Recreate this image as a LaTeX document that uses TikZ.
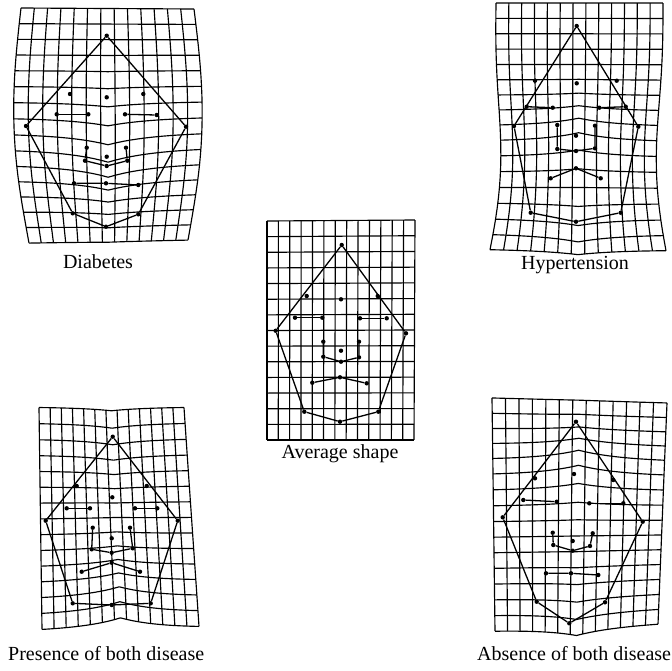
\documentclass[tikz,border=0pt]{standalone}
\usepackage{fontspec}
\setmainfont{Liberation Serif}
\tikzset{
  declare function={
    sq(\z)=\z*\z;
    gs(\z)=exp(max(-9,0-sq(\z)));
    cu(\u)=exp(0-abs(\u-0.5)/\Cw);
    fx(\u,\v)=(1-\v)*((1-\u)*\TLx+\u*\TRx)+\v*((1-\u)*\BLx+\u*\BRx)+(2*\u-1)*(\Ea*sin(180*\v)+\Eb*sin(360*\v));
    fy(\u,\v)=(1-\u)*((1-\v)*\TLy+\v*\BLy)+\u*((1-\v)*\TRy+\v*\BRy)+cu(\u)*(\Da*gs((\v-\Va)/\Wa)+\Db*gs((\v-\Vb)/\Wb));
  },
  gridline/.style={line width=1.15pt, line join=round},
  outline/.style={line width=1.3pt, line join=round},
  landmark/.style={circle, fill=black, inner sep=0pt, minimum size=4.4pt},
  lbl/.style={font=\fontsize{20}{24}\selectfont, inner sep=0pt},
}
\newcommand\corners[8]{\def\TLx{#1}\def\TLy{#2}\def\TRx{#3}\def\TRy{#4}\def\BLx{#5}\def\BLy{#6}\def\BRx{#7}\def\BRy{#8}}
\newcommand\warp[9]{\def\Ea{#1}\def\Eb{#2}\def\Cw{#3}\def\Da{#4}\def\Va{#5}\def\Wa{#6}\def\Db{#7}\def\Vb{#8}\def\Wb{#9}}
\newcommand\drawgrid[2]{%
  \foreach \i in {0,...,#1}{%
    \pgfmathsetmacro\uu{\i/#1}%
    \draw[gridline] plot[domain=0:1, samples=25, variable=\t] ({fx(\uu,\t)},{fy(\uu,\t)});
  }%
  \foreach \j in {0,...,#2}{%
    \pgfmathsetmacro\vv{\j/#2}%
    \draw[gridline] plot[domain=0:1, samples=25, variable=\t] ({fx(\t,\vv)},{fy(\t,\vv)});
  }%
}
\newcommand\facelines[1]{%
  \draw[outline] (#1ap)--(#1L)--(#1l1)--(#1l2)--(#1l3)--(#1R)--(#1ap);
  \draw[outline] (#1b1)--(#1b2);
  \draw[outline] (#1b3)--(#1b4);
  \draw[outline] (#1n1)--(#1u1)--(#1u2)--(#1u3)--(#1n2);
  \draw[outline] (#1m1)--(#1m2)--(#1m3);
}
\begin{document}
\begin{tikzpicture}[x=1pt,y=-1pt]
\useasboundingbox (0,0) rectangle (672,670);

% ---------- Diabetes ----------
\begin{scope}
\corners{21}{8}{194}{9}{29}{243}{188}{240}
\warp{11}{0}{0.25}{14}{0.62}{0.22}{0}{1}{0.2}
\drawgrid{13}{15}
\foreach \n/\x/\y in {Dap/106.7/35.7, De1/70/94, De2/106.7/97.3, De3/143.3/94,
  Db1/56.7/114.3, Db2/88.3/114.3, Db3/125/114.3, Db4/156.7/115,
  DL/26/126, DR/186/126.7, Dn1/86.7/147.7, Dn2/126/147.7, Dc/106.7/156.7,
  Du1/85/160.7, Du2/106.7/166, Du3/127.3/160.7,
  Dm1/74/183.3, Dm2/106/183.3, Dm3/138.3/185,
  Dl1/72.7/213.3, Dl2/106/226.7, Dl3/138.3/214.3}
  {\node[landmark] (\n) at (\x,\y) {};}
\facelines{D}
\end{scope}

% ---------- Average shape ----------
\begin{scope}
\corners{267}{221}{415}{220}{267}{440}{414}{440}
\warp{0}{0}{0.25}{0}{0.5}{0.2}{0}{1}{0.2}
\drawgrid{13}{14}
\foreach \n/\x/\y in {Aap/341.7/245, Ae1/306.7/296, Ae2/341/299.3, Ae3/377.7/296,
  Ab1/295/317.7, Ab2/322.3/317.7, Ab3/360/318.3, Ab4/386.7/318.3,
  AL/275.7/330.7, AR/406/333.3, An1/323.3/341.7, An2/359/341.7, Ac/341/350.7,
  Au1/323.3/356.7, Au2/341/361.7, Au3/359/357.3,
  Am1/312.3/382.7, Am2/340/377.3, Am3/366.7/383.3,
  Al1/304.3/411.7, Al2/340/421.7, Al3/378.3/411.7}
  {\node[landmark] (\n) at (\x,\y) {};}
\facelines{A}
\end{scope}

% ---------- Hypertension ----------
\begin{scope}
\corners{496}{3}{663}{3}{490}{249}{666}{250}
\warp{-7}{3}{0.25}{-9}{0.55}{0.15}{8}{0.92}{0.12}
\drawgrid{13}{16}
\foreach \n/\x/\y in {Hap/576.7/26, He1/535/80.7, He2/576.7/83.3, He3/616.7/80.7,
  Hb1/526.7/106.7, Hb2/552.7/107.7, Hb3/599.3/107.7, Hb4/625.7/106.7,
  HL/514/126, HR/638.3/126.7, Hn1/557.3/125, Hn2/595/125.7, Hc/576/135.7,
  Hu1/557.3/149, Hu2/576/151, Hu3/595/148.3,
  Hm1/550.7/178.3, Hm2/576/168.3, Hm3/600.7/178.3,
  Hl1/530.7/212.7, Hl2/576/221.7, Hl3/620.7/212.7}
  {\node[landmark] (\n) at (\x,\y) {};}
\facelines{H}
\end{scope}

% ---------- Presence of both disease ----------
\begin{scope}
\corners{39}{407}{184}{407}{42}{631}{199}{628}
\warp{0}{0}{0.25}{6}{0.15}{0.22}{-12}{0.95}{0.3}
\drawgrid{13}{14}
\foreach \n/\x/\y in {Pap/112.7/436.7, Pe1/76.7/486, Pe2/112.3/497.3, Pe3/146.7/486,
  Pb1/66.7/508.3, Pb2/90/508.3, Pb3/135/508.3, Pb4/157.3/508.3,
  PL/45.7/520.7, PR/177.7/520.7, Pn1/92.7/527.7, Pn2/130/527.7, Pc/111.7/538.3,
  Pu1/91.7/549.3, Pu2/111.7/552.7, Pu3/132.7/548.3,
  Pm1/81.7/571.7, Pm2/111.7/562.7, Pm3/140/571.7,
  Pl1/72.7/603.3, Pl2/111.7/605, Pl3/150.7/603.3}
  {\node[landmark] (\n) at (\x,\y) {};}
\facelines{P}
\end{scope}

% ---------- Absence of both disease ----------
\begin{scope}
\corners{492}{398}{667}{403}{495}{630}{658}{623}
\warp{0}{0}{0.25}{-11}{0.3}{0.16}{9}{1}{0.2}
\drawgrid{13}{15}
\foreach \n/\x/\y in {Qap/576/421.7, Qe1/535/478.3, Qe2/574/474, Qe3/613.3/480,
  Qb1/523.3/500, Qb2/556.7/501.7, Qb3/589.3/503.3, Qb4/623.3/503.3,
  QL/502.7/517.3, QR/642.7/521.7, Qn1/552.7/532.7, Qn2/592.7/533.3, Qc/572.7/541,
  Qu1/553.3/545, Qu2/572.7/550.7, Qu3/590/546,
  Qm1/546/573.3, Qm2/571/573.3, Qm3/598.3/575,
  Ql1/536.7/601.7, Ql2/569.3/623.3, Ql3/605/602.3}
  {\node[landmark] (\n) at (\x,\y) {};}
\facelines{Q}
\end{scope}

% ---------- labels ----------
\node[lbl, anchor=base] (tD) at (98,268) {Diabetes};
\node[lbl, anchor=base] (tH) at (575,269) {Hypertension};
\node[lbl, anchor=base] (tA) at (340,458) {Average shape};
\node[lbl, anchor=base west] (tP) at (8,660) {Presence of both disease};
\node[lbl, anchor=base west] (tQ) at (477,660) {Absence of both disease};
\end{tikzpicture}
\end{document}
